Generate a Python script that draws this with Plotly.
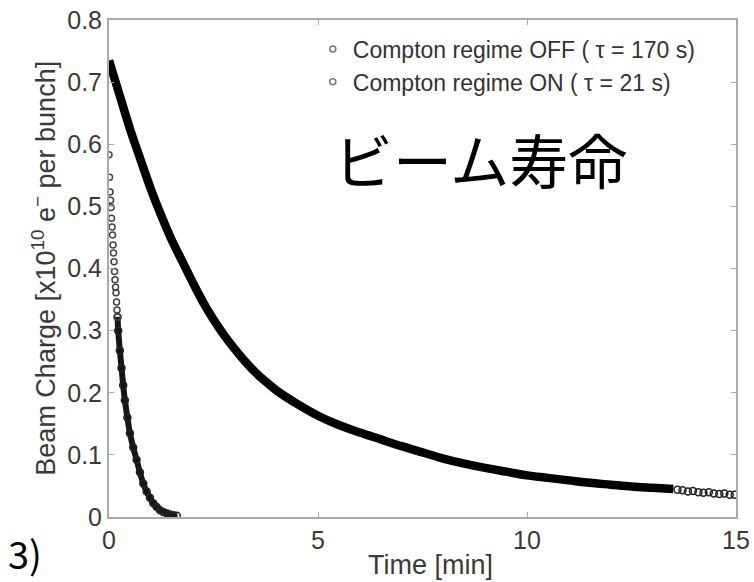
import plotly.graph_objects as go

# ---- data ----
# Compton regime OFF (slow decay), dense band part
t_off = [0.0, 0.25, 0.5, 0.75, 1.0, 1.25, 1.5, 1.75, 2.0, 2.25, 2.5, 2.75, 3.0,
         3.25, 3.5, 3.75, 4.0, 4.5, 5.0, 5.5, 6.0, 6.5, 7.0, 7.5, 8.0, 8.5,
         9.0, 9.5, 10.0, 10.5, 11.0, 11.5, 12.0, 12.5, 13.0, 13.5]
q_off = [0.735, 0.680, 0.625, 0.576, 0.528, 0.485, 0.446, 0.412, 0.378, 0.346,
         0.318, 0.293, 0.271, 0.251, 0.233, 0.218, 0.204, 0.182, 0.163, 0.148,
         0.136, 0.125, 0.114, 0.104, 0.094, 0.086, 0.079, 0.073, 0.067, 0.063,
         0.059, 0.055, 0.052, 0.049, 0.047, 0.045]
# Compton regime OFF, sparse tail markers
t_off_tail = [13.6, 13.72, 13.85, 13.97, 14.1, 14.22, 14.35, 14.47, 14.6, 14.72, 14.85, 14.97]
q_off_tail = [0.044, 0.043, 0.041, 0.042, 0.040, 0.039, 0.040, 0.038, 0.037, 0.038, 0.036, 0.036]

# Compton regime ON (fast decay), sparse top markers
t_on_top = [0.0, 0.012, 0.024, 0.036, 0.048, 0.06, 0.072, 0.084, 0.096, 0.108,
            0.12, 0.132, 0.144, 0.156, 0.168, 0.18, 0.192, 0.204]
q_on_top = [0.583, 0.547, 0.523, 0.510, 0.498, 0.481, 0.467, 0.454, 0.438, 0.425,
            0.411, 0.395, 0.382, 0.370, 0.361, 0.346, 0.333, 0.322]
# Compton regime ON, dense lower part
t_on = [0.204, 0.22, 0.26, 0.30, 0.34, 0.38, 0.44, 0.50, 0.58, 0.66, 0.74, 0.82,
        0.90, 0.98, 1.06, 1.14, 1.22, 1.30, 1.38, 1.46, 1.54, 1.62]
q_on = [0.322, 0.300, 0.268, 0.240, 0.212, 0.188, 0.160, 0.135, 0.112, 0.092,
        0.072, 0.054, 0.041, 0.031, 0.022, 0.016, 0.011, 0.008, 0.006, 0.004,
        0.003, 0.002]

legend_names = ["Compton regime OFF ( \u03c4 = 170 s)", "Compton regime ON ( \u03c4 = 21 s)"]
x_ticks = [0, 5, 10, 15]
y_ticks = [0, 0.1, 0.2, 0.3, 0.4, 0.5, 0.6, 0.7, 0.8]
y_tick_text = ["0", "0.1", "0.2", "0.3", "0.4", "0.5", "0.6", "0.7", "0.8"]

FONT = "Liberation Sans, Arial, sans-serif"

fig = go.Figure()

# OFF band
fig.add_trace(go.Scatter(x=t_off, y=q_off, mode="lines",
                         line=dict(color="black", width=8.5, shape="spline"),
                         showlegend=False, hoverinfo="skip"))
fig.add_trace(go.Scatter(x=t_off_tail, y=q_off_tail, mode="markers",
                         marker=dict(symbol="circle-open", size=7, color="#222",
                                     line=dict(width=1.5)),
                         showlegend=False))
# ON band
fig.add_trace(go.Scatter(x=t_on, y=q_on, mode="lines+markers",
                         line=dict(color="#151515", width=6, shape="spline"),
                         marker=dict(symbol="circle-open", size=7, color="#222",
                                     line=dict(width=1.5)),
                         showlegend=False))
fig.add_trace(go.Scatter(x=t_on_top, y=q_on_top, mode="markers",
                         marker=dict(symbol="circle-open", size=6, color="#444",
                                     line=dict(width=1.5)),
                         showlegend=False))

# legend entries
for name in legend_names:
    fig.add_trace(go.Scatter(x=[None], y=[None], mode="markers", name=name,
                             marker=dict(symbol="circle-open", size=6, color="#777",
                                         line=dict(width=1.5))))

axis_common = dict(showline=True, linecolor="#aaaaaa", linewidth=2, mirror="ticks",
                   ticks="inside", ticklen=5, tickcolor="#aaaaaa", tickwidth=1,
                   showgrid=False, zeroline=False, automargin=False,
                   tickfont=dict(family=FONT, size=25, color="#3a3a3a"))

fig.update_xaxes(range=[0, 15], tickvals=x_ticks, **axis_common)
fig.update_yaxes(range=[0, 0.8], tickvals=y_ticks, ticktext=y_tick_text, **axis_common)

fig.update_layout(
    width=754, height=582,
    margin=dict(l=109, r=18, t=20, b=65, autoexpand=False),
    plot_bgcolor="white", paper_bgcolor="white",
    legend=dict(x=0.325, y=0.985, xanchor="left", yanchor="top",
                bgcolor="rgba(0,0,0,0)", font=dict(family=FONT, size=23, color="#333")),
    annotations=[
        dict(text="Time [min]", xref="paper", yref="paper", x=0.512, y=-0.0966,
             xanchor="center", yanchor="middle", showarrow=False,
             font=dict(family=FONT, size=27, color="#3a3a3a")),
        dict(text="Beam Charge [x10<sup>10</sup> e<sup>\u2212</sup> per bunch]",
             xref="paper", yref="paper", x=-0.105, y=0.50, textangle=-90,
             xanchor="center", yanchor="middle", showarrow=False,
             font=dict(family=FONT, size=27, color="#3a3a3a")),
        dict(text="ビーム寿命", xref="paper", yref="paper", x=0.593, y=0.722,
             xanchor="center", yanchor="middle", showarrow=False,
             font=dict(family="Noto Sans CJK JP", size=59, color="black")),
        dict(text="3)", xref="paper", yref="paper", x=-0.164, y=-0.071,
             xanchor="left", yanchor="middle", showarrow=False,
             font=dict(family="Noto Sans CJK JP", size=38, color="black")),
    ],
)

fig.write_html("out.html", config={"displayModeBar": False},
               post_script="document.body.style.margin='0';document.body.style.overflow='hidden';")
